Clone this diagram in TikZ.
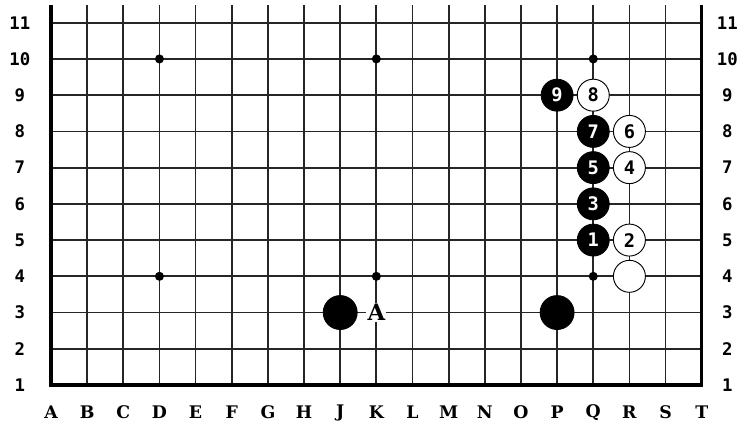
\documentclass[tikz,border=0pt]{standalone}
\usepackage{fontspec}
\newfontfamily\goletter{DejaVu Serif}
\newfontfamily\gonum{DejaVu Sans Mono}
\tikzset{
  gridline/.style={line width=1.3pt, black!85},
  edgeline/.style={line width=2.3pt, black, line join=miter},
  lbl/.style={font=\goletter\bfseries\fontsize{13}{13}\selectfont, inner sep=0pt},
  numlbl/.style={font=\gonum\bfseries\fontsize{13}{13}\selectfont, inner sep=0pt},
  bstone/.style={circle, draw=black, fill=black, line width=0.6pt, minimum size=24pt, inner sep=0pt,
     text=white, font=\gonum\bfseries\fontsize{14}{14}\selectfont},
  wstone/.style={circle, draw=black, fill=white, line width=0.7pt, minimum size=24pt, inner sep=0pt,
     text=black, font=\gonum\bfseries\fontsize{14}{14}\selectfont},
  bigstone/.style={bstone, minimum size=25.5pt},
  starpt/.style={circle, fill=black, inner sep=0pt, minimum size=6.8pt},
  marklbl/.style={fill=white, inner sep=1pt, font=\goletter\bfseries\fontsize{17}{17}\selectfont}
}
\begin{document}
\begin{tikzpicture}[x=0.75pt,y=-0.75pt]
\useasboundingbox[fill=white] (0,0) rectangle (743,423);
\begin{scope}[shift={(38.25pt,-288.75pt)}, x=27.1125pt, y=27.17pt]
  % grid
  \foreach \i in {1,...,17} \draw[gridline] (\i,0) -- (\i,10.49);
  \foreach \r in {1,...,10} \draw[gridline] (0,\r) -- (18,\r);
  \draw[edgeline] (0,10.49) -- (0,0) -- (18,0) -- (18,10.49);
  % star points
  \foreach \p/\q in {3/3,9/3,15/3,3/9,9/9,15/9}
    \node[starpt] (star-\p-\q) at (\p,\q) {};
  % column letters
  \foreach \l [count=\c from 0] in {A,B,C,D,E,F,G,H,J,K,L,M,N,O,P,Q,R,S,T}
    \node[lbl] (col-\l) at (\c,-0.76) {\l};
  % row numbers
  \foreach \r in {1,...,11} {
    \node[numlbl] (rowL-\r) at (-0.86,\r-1) {\r};
    \node[numlbl] (rowR-\r) at (18.71,\r-1) {\r};
  }
  % stones
  \node[bigstone] (J3) at (8,2) {};
  \node[bigstone] (P3) at (14,2) {};
  \node[wstone] (R4) at (16,3) {};
  \node[bstone] (m1) at (15,4) {1};
  \node[wstone] (m2) at (16,4) {2};
  \node[bstone] (m3) at (15,5) {3};
  \node[wstone] (m4) at (16,6) {4};
  \node[bstone] (m5) at (15,6) {5};
  \node[wstone] (m6) at (16,7) {6};
  \node[bstone] (m7) at (15,7) {7};
  \node[wstone] (m8) at (15,8) {8};
  \node[bstone] (m9) at (14,8) {9};
  % marker
  \node[marklbl] (markA) at (9,2) {A};
\end{scope}
\end{tikzpicture}
\end{document}
